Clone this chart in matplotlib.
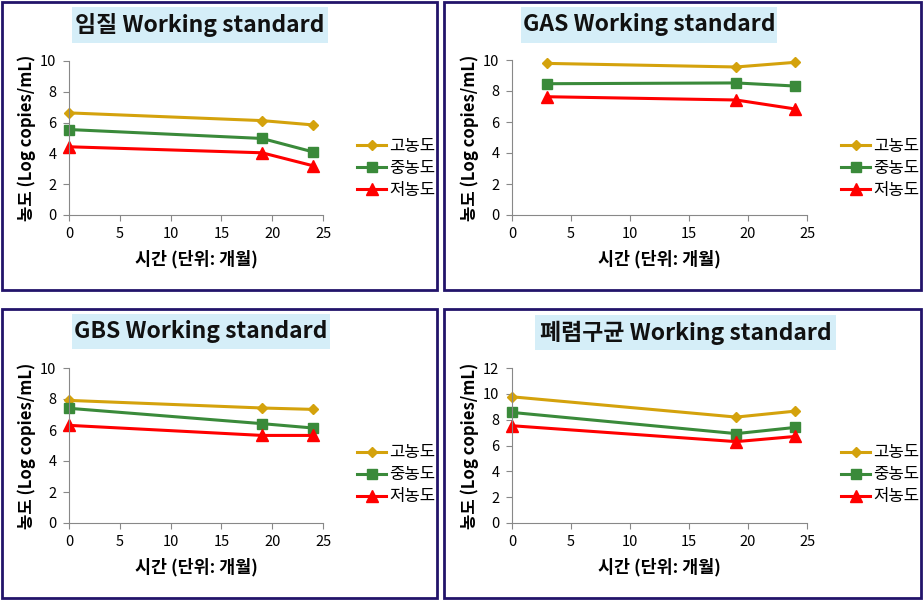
import matplotlib
matplotlib.use("Agg")
from matplotlib import pyplot as plt
from matplotlib.patches import Rectangle

plt.rcParams['font.family'] = ['Noto Sans CJK KR', 'DejaVu Sans']

# data
series_names = ["고농도", "중농도", "저농도"]
titles = ["임질 Working standard", "GAS Working standard",
          "GBS Working standard", "폐렴구균 Working standard"]

months_gono = [0, 19, 24]
gono_high = [6.63, 6.13, 5.85]
gono_mid = [5.55, 4.97, 4.10]
gono_low = [4.43, 4.04, 3.20]

months_gas = [3, 19, 24]
gas_high = [9.78, 9.55, 9.85]
gas_mid = [8.47, 8.52, 8.32]
gas_low = [7.63, 7.42, 6.84]

months_gbs = [0, 19, 24]
gbs_high = [7.91, 7.42, 7.33]
gbs_mid = [7.40, 6.41, 6.13]
gbs_low = [6.30, 5.65, 5.65]

months_pneu = [0, 19, 24]
pneu_high = [9.77, 8.20, 8.66]
pneu_mid = [8.56, 6.92, 7.40]
pneu_low = [7.53, 6.30, 6.70]

W, H = 924, 601
colors = ["#D4A20C", "#3A8A3A", "#FF0000"]
markers = ["D", "s", "^"]
msizes = [5, 7, 8]


def px_rect(x0, y0, x1, y1):  # pixel box (top-left origin) -> figure fraction
    return [x0 / W, 1 - y1 / H, (x1 - x0) / W, (y1 - y0) / H]


def panel(fig, box, axbox, titlebox, title, x, ys, ymax, legend_y):
    # border of the panel
    fig.patches.append(Rectangle((box[0] / W, 1 - box[3] / H), (box[2] - box[0]) / W,
                                 (box[3] - box[1]) / H, transform=fig.transFigure,
                                 fill=False, edgecolor="#22146A", lw=2))
    # light blue title box
    fig.patches.append(Rectangle((titlebox[0] / W, 1 - titlebox[3] / H),
                                 (titlebox[2] - titlebox[0]) / W, (titlebox[3] - titlebox[1]) / H,
                                 transform=fig.transFigure, facecolor="#D5EEF8", edgecolor="none"))
    fig.text((titlebox[0] + titlebox[2]) / 2 / W, 1 - (titlebox[1] + titlebox[3]) / 2 / H, title,
             ha="center", va="center", fontsize=16.5, fontweight="bold", color="#111111")

    ax = fig.add_axes(px_rect(*axbox))
    for i in range(3):
        ax.plot(x, ys[i], color=colors[i], marker=markers[i], markersize=msizes[i],
                lw=2.2, label=series_names[i], clip_on=False)
    ax.set_xlim(0, 25)
    ax.set_ylim(0, ymax)
    ax.set_xticks(range(0, 26, 5))
    ax.set_yticks(range(0, ymax + 1, 2))
    for s in ["top", "right"]:
        ax.spines[s].set_visible(False)
    for s in ["left", "bottom"]:
        ax.spines[s].set_color("#888888")
    ax.tick_params(direction="out", length=4, color="#888888", labelsize=10.5, pad=5)
    ax.set_xlabel("시간 (단위: 개월)", fontsize=12.5, fontweight="bold", labelpad=6)
    ax.set_ylabel("농도 (Log copies/mL)", fontsize=12, fontweight="bold", labelpad=3)
    ax.legend(loc="center left", bbox_to_anchor=((axbox[2] + 26) / W, 1 - legend_y / H),
              bbox_transform=fig.transFigure, frameon=False, fontsize=12,
              handlelength=1.7, handletextpad=0.2, labelspacing=0.3, borderpad=0)
    return ax


fig = plt.figure(figsize=(W / 100, H / 100), dpi=100)

panel(fig, (2, 2, 437, 290), (69, 61, 323, 215), (72, 7, 328, 43), titles[0],
      months_gono, [gono_high, gono_mid, gono_low], 10, 168)
panel(fig, (444, 2, 921, 290), (512, 60, 807, 215), (521, 7, 777, 43), titles[1],
      months_gas, [gas_high, gas_mid, gas_low], 10, 168)
panel(fig, (2, 309, 437, 598), (69, 368, 323, 523), (72, 314, 330, 349), titles[2],
      months_gbs, [gbs_high, gbs_mid, gbs_low], 10, 475)
panel(fig, (444, 309, 921, 598), (512, 368, 807, 523), (535, 315, 836, 350), titles[3],
      months_pneu, [pneu_high, pneu_mid, pneu_low], 12, 475)

fig.savefig("out.png", dpi=100)
